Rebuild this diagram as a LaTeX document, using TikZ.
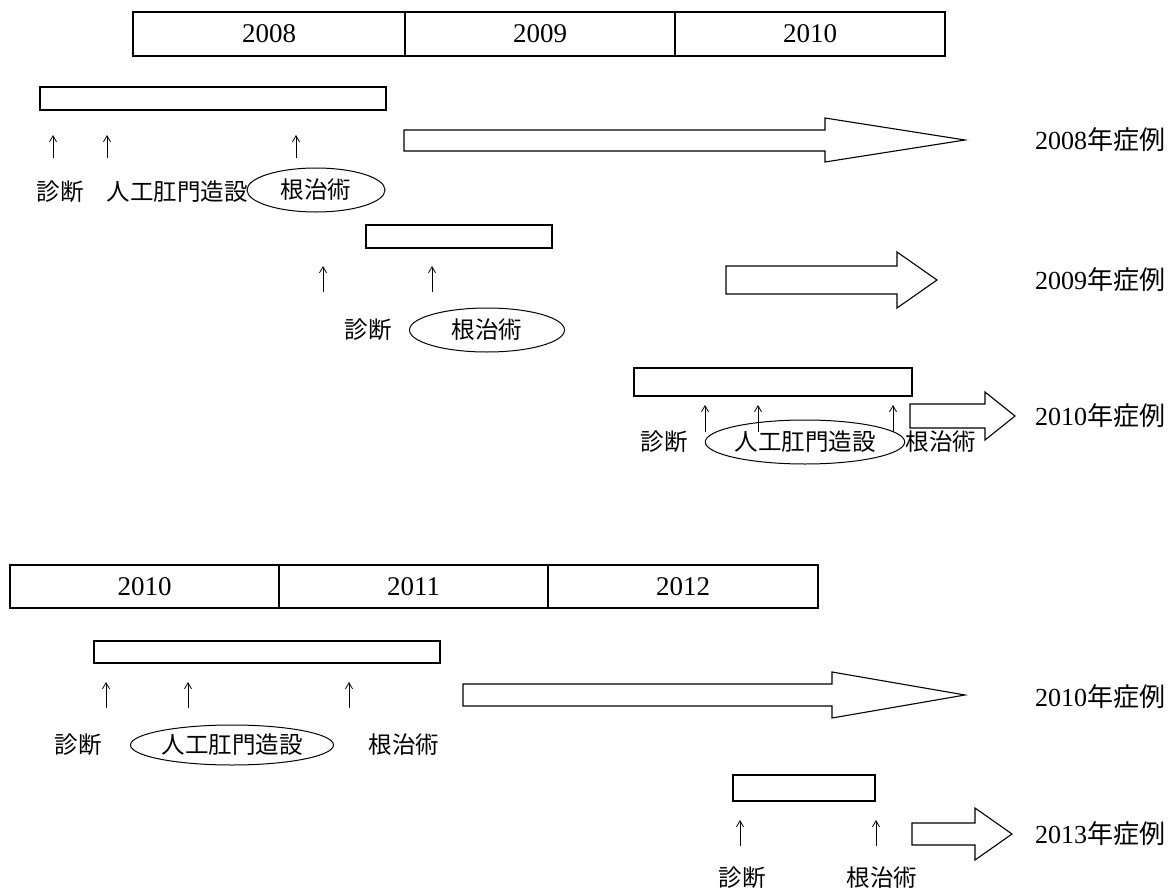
\documentclass[tikz,border=0pt]{standalone}
\usepackage{fontspec}
\setmainfont{Liberation Serif}
\newfontfamily\cjk{Noto Sans CJK JP}
\usetikzlibrary{shapes.geometric,arrows.meta}
\begin{document}
\begin{tikzpicture}[x=1pt,y=-1pt,
  line width=1.1pt,
  every node/.style={inner sep=0pt,outer sep=0pt},
  yearbox/.style={draw,minimum height=44pt,anchor=north west,font=\fontsize{27}{29}\selectfont},
  bar/.style={draw,anchor=north west},
  lbl/.style={font=\cjk\fontsize{23.5}{25}\selectfont},
  ell/.style={draw,ellipse,line width=1pt,font=\cjk\fontsize{23.5}{25}\selectfont},
  case/.style={anchor=west,font=\fontsize{26}{28}\selectfont},
  uparrow/.style={line width=0.8pt,-{Straight Barb[length=6pt,width=7pt]}},
  bigarrow/.style={draw,line width=1.1pt,fill=white}
]
\useasboundingbox (0,0) rectangle (1176,894);

% ---------- upper timeline ----------
\node[yearbox,minimum width=272pt] (y08) at (133,12) {2008};
\node[yearbox,minimum width=270pt] (y09) at (405,12) {2009};
\node[yearbox,minimum width=270pt] (y10) at (675,12) {2010};

% 2008 case
\node[bar,minimum width=346pt,minimum height=23pt] (b1) at (40,87) {};
\coordinate (a1s) at (53,158);  \coordinate (a1e) at (53,135);
\coordinate (a2s) at (107,158); \coordinate (a2e) at (107,135);
\coordinate (a3s) at (296,158); \coordinate (a3e) at (296,135);
\draw[uparrow] (a1s) -- (a1e);
\draw[uparrow] (a2s) -- (a2e);
\draw[uparrow] (a3s) -- (a3e);
\node[lbl] (l1a) at (60,192) {診断};
\node[lbl] (l1b) at (177,192) {人工肛門造設};
\node[ell,minimum width=138pt,minimum height=44pt] (l1c) at (316,190) {根治術};
\draw[bigarrow] (404,130) -- (825,130) -- (825,118) -- (965,140) -- (825,162) -- (825,151) -- (404,151) -- cycle;
\node[case] (c1) at (1035,140) {2008{\cjk 年症例}};

% 2009 case
\node[bar,minimum width=186pt,minimum height=23pt] (b2) at (366,225) {};
\coordinate (a4s) at (323,292); \coordinate (a4e) at (323,266);
\coordinate (a5s) at (432,292); \coordinate (a5e) at (432,266);
\draw[uparrow] (a4s) -- (a4e);
\draw[uparrow] (a5s) -- (a5e);
\node[lbl] (l2a) at (368,330) {診断};
\node[ell,minimum width=155pt,minimum height=44pt] (l2b) at (487,330) {根治術};
\draw[bigarrow] (726,266) -- (897,266) -- (897,252) -- (937,280) -- (897,308) -- (897,294) -- (726,294) -- cycle;
\node[case] (c2) at (1035,280) {2009{\cjk 年症例}};

% 2010 case
\node[bar,minimum width=278pt,minimum height=28pt] (b3) at (634,368) {};
\coordinate (a6s) at (705,432); \coordinate (a6e) at (705,405);
\coordinate (a7s) at (758,432); \coordinate (a7e) at (758,405);
\coordinate (a8s) at (893,432); \coordinate (a8e) at (893,405);
\draw[uparrow] (a6s) -- (a6e);
\draw[uparrow] (a7s) -- (a7e);
\draw[uparrow] (a8s) -- (a8e);
\node[lbl] (l3a) at (664,442) {診断};
\node[ell,minimum width=190pt,minimum height=44pt] (l3b) at (805,442) {人工肛門造設};
\node[lbl] (l3c) at (941,442) {根治術};
\draw[bigarrow] (910,404) -- (985,404) -- (985,392) -- (1015,416) -- (985,440) -- (985,428) -- (910,428) -- cycle;
\node[case] (c3) at (1035,416) {2010{\cjk 年症例}};

% ---------- lower timeline ----------
\node[yearbox,minimum width=269pt,minimum height=43pt] (z10) at (10,565) {2010};
\node[yearbox,minimum width=269pt,minimum height=43pt] (z11) at (279,565) {2011};
\node[yearbox,minimum width=270pt,minimum height=43pt] (z12) at (548,565) {2012};

% 2010 case
\node[bar,minimum width=346pt,minimum height=22pt] (b4) at (94,641) {};
\coordinate (a9s) at (106,708);  \coordinate (a9e) at (106,682);
\coordinate (a10s) at (188,708); \coordinate (a10e) at (188,682);
\coordinate (a11s) at (349,708); \coordinate (a11e) at (349,682);
\draw[uparrow] (a9s) -- (a9e);
\draw[uparrow] (a10s) -- (a10e);
\draw[uparrow] (a11s) -- (a11e);
\node[lbl] (l4a) at (78,745) {診断};
\node[ell,minimum width=203pt,minimum height=40pt] (l4b) at (232,745) {人工肛門造設};
\node[lbl] (l4c) at (404,745) {根治術};
\draw[bigarrow] (463,684) -- (832,684) -- (832,672) -- (965,695) -- (832,718) -- (832,706) -- (463,706) -- cycle;
\node[case] (c4) at (1035,697) {2010{\cjk 年症例}};

% 2013 case
\node[bar,minimum width=142pt,minimum height=26pt] (b5) at (733,775) {};
\coordinate (a12s) at (740,846); \coordinate (a12e) at (740,820);
\coordinate (a13s) at (876,846); \coordinate (a13e) at (876,820);
\draw[uparrow] (a12s) -- (a12e);
\draw[uparrow] (a13s) -- (a13e);
\node[lbl] (l5a) at (742,878) {診断};
\node[lbl] (l5b) at (882,878) {根治術};
\draw[bigarrow] (912,823) -- (975,823) -- (975,808) -- (1012,834) -- (975,860) -- (975,845) -- (912,845) -- cycle;
\node[case] (c5) at (1035,834) {2013{\cjk 年症例}};
\end{tikzpicture}
\end{document}
